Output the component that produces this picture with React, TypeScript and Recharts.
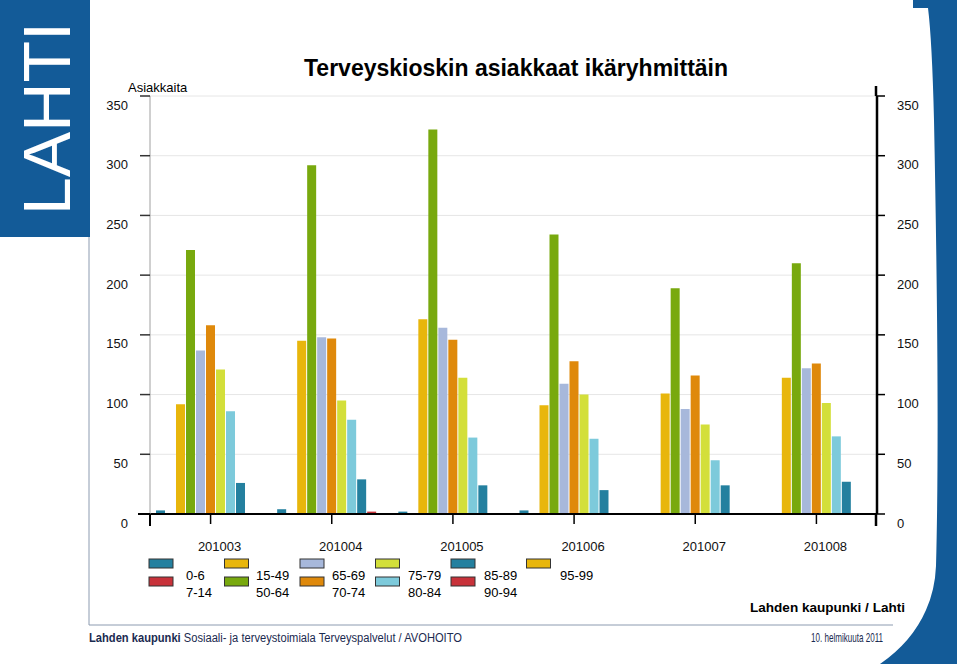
import { Bar, BarChart, CartesianGrid, XAxis, YAxis } from "recharts";

const months = ["201003", "201004", "201005", "201006", "201007", "201008"];
const ageGroups = ["0-6", "7-14", "15-49", "50-64", "65-69", "70-74", "75-79", "80-84", "85-89", "90-94", "95-99"];
const groupColors = [
  "#24809f", "#c8323a", "#e8b60c", "#78a90e", "#a7b8db", "#df890b",
  "#d3df3a", "#7dcadb", "#24809f", "#c8323a", "#e8b60c",
];

// Asiakkaita per age group, one value per month
const age0_6 = [3, 4, 2, 3, 0, 0];
const age7_14 = [0, 0, 0, 0, 0, 0];
const age15_49 = [92, 145, 163, 91, 101, 114];
const age50_64 = [221, 292, 322, 234, 189, 210];
const age65_69 = [137, 148, 156, 109, 88, 122];
const age70_74 = [158, 147, 146, 128, 116, 126];
const age75_79 = [121, 95, 114, 100, 75, 93];
const age80_84 = [86, 79, 64, 63, 45, 65];
const age85_89 = [26, 29, 24, 20, 24, 27];
const age90_94 = [0, 2, 0, 0, 0, 0];
const age95_99 = [0, 0, 0, 0, 0, 0];

const seriesValues = [
  age0_6, age7_14, age15_49, age50_64, age65_69, age70_74,
  age75_79, age80_84, age85_89, age90_94, age95_99,
];

const yTicks = [0, 50, 100, 150, 200, 250, 300, 350];

const data = months.map((month, i) => {
  const row: Record<string, string | number> = { month };
  ageGroups.forEach((g, k) => {
    row[g] = seriesValues[k][i];
  });
  return row;
});

const FONT = "'Liberation Sans', Arial, sans-serif";

function LeftTick({ x, y, payload }: any) {
  return (
    <text x={x} y={y + 9} dy="0.355em" textAnchor="end" fontSize={13} fill="#111" fontFamily={FONT}>
      {payload.value}
    </text>
  );
}

function RightTick({ x, y, payload }: any) {
  return (
    <text x={x} y={y + 9} dy="0.355em" textAnchor="start" fontSize={13} fill="#111" fontFamily={FONT}>
      {payload.value}
    </text>
  );
}

function MonthTick({ x, y, payload }: any) {
  return (
    <text x={x + 9} y={y + 25} textAnchor="middle" fontSize={13} fill="#111" fontFamily={FONT}>
      {payload.value}
    </text>
  );
}

function Decorations() {
  return (
    <svg
      width={960}
      height={664}
      style={{ position: "absolute", left: 0, top: 0, pointerEvents: "none" }}
      fontFamily={FONT}
    >
      {/* left logo */}
      <rect x={0} y={0} width={90} height={237} fill="#135b98" />
      <text
        x={0}
        y={0}
        transform="translate(70 215) rotate(-90)"
        fontSize={67}
        fill="#ffffff"
        textLength={193}
        lengthAdjust="spacingAndGlyphs"
      >
        LAHTI
      </text>
      {/* right logo */}
      <path
        d="M913 0 H957 V664 H880 Q912 642 926 610 Q935 590 936 566 Q940 420 934 120 Q932 40 928 8 H913 Z"
        fill="#135b98"
      />
      {/* frame */}
      <line x1={89} y1={237} x2={89} y2={625} stroke="#8c9bb0" strokeWidth={1} />
      <line x1={89} y1={625} x2={893} y2={625} stroke="#8c9bb0" strokeWidth={1} />

      {/* axis stubs */}
      <line x1={138} y1={514} x2={150} y2={514} stroke="#000" strokeWidth={2} />
      <line x1={150} y1={514} x2={150} y2={526} stroke="#000" strokeWidth={2} />
      <line x1={876} y1={86} x2={876} y2={96} stroke="#000" strokeWidth={2.5} />
      <line x1={876} y1={514} x2={876} y2={526} stroke="#000" strokeWidth={2.5} />

      {/* title */}
      <text x={304} y={76} fontSize={23} fontWeight="bold" fill="#000">
        Terveyskioskin asiakkaat ikäryhmittäin
      </text>
      <text x={128} y={92} fontSize={13} fill="#000">
        Asiakkaita
      </text>

      {/* legend */}
      {ageGroups.map((g, i) => {
        const col = Math.floor(i / 2);
        const row = i % 2;
        const labelX = col === 0 ? 186 : 180 + 76 * col;
        return (
          <g key={g}>
            <rect
              x={149 + 75.5 * col}
              y={559 + 18 * row}
              width={24}
              height={9}
              fill={groupColors[i]}
              stroke="#333"
              strokeWidth={1}
            />
            <text x={labelX} y={580 + 17 * row} fontSize={13} fill="#000">
              {g}
            </text>
          </g>
        );
      })}

      <text x={750} y={612} fontSize={13} fontWeight="bold" fill="#000" textLength={155} lengthAdjust="spacingAndGlyphs">
        Lahden kaupunki / Lahti
      </text>

      {/* footer */}
      <text x={89} y={642} fontSize={12.5} fill="#1a2a50" textLength={373} lengthAdjust="spacingAndGlyphs">
        <tspan fontWeight="bold">Lahden kaupunki</tspan>
        <tspan> Sosiaali- ja terveystoimiala Terveyspalvelut / AVOHOITO</tspan>
      </text>
      <text x={811} y={642} fontSize={13} fill="#1a2a50" textLength={72} lengthAdjust="spacingAndGlyphs">
        10. helmikuuta 2011
      </text>
    </svg>
  );
}

export default function App() {
  return (
    <div style={{ position: "absolute", left: 0, top: 0, width: 960, height: 664, background: "#fff" }}>
      <BarChart
        width={960}
        height={664}
        data={data}
        margin={{ top: 96, right: 0, bottom: 120, left: 0 }}
        barCategoryGap={6}
        barGap={1}
      >
        <CartesianGrid yAxisId="left" vertical={false} stroke="#e6e6e6" />
        <XAxis
          dataKey="month"
          height={30}
          axisLine={{ stroke: "#000", strokeWidth: 2 }}
          tickLine={{ stroke: "#000", strokeWidth: 1.5 }}
          tickSize={10}
          tick={<MonthTick />}
        />
        <YAxis
          yAxisId="left"
          orientation="left"
          width={150}
          domain={[0, 350]}
          ticks={yTicks}
          interval={0}
          axisLine={{ stroke: "#a0a0a0", strokeWidth: 1 }}
          tickLine={{ stroke: "#333", strokeWidth: 1.5 }}
          tickSize={10}
          tickMargin={12}
          tick={<LeftTick />}
        />
        <YAxis
          yAxisId="right"
          orientation="right"
          width={83}
          domain={[0, 350]}
          ticks={yTicks}
          interval={0}
          axisLine={{ stroke: "#000", strokeWidth: 2.5 }}
          tickLine={{ stroke: "#000", strokeWidth: 1.5 }}
          tickSize={8}
          tickMargin={12}
          tick={<RightTick />}
        />
        {ageGroups.map((g, i) => (
          <Bar
            key={g}
            dataKey={g}
            yAxisId={i === ageGroups.length - 1 ? "right" : "left"}
            fill={groupColors[i]}
            isAnimationActive={false}
          />
        ))}
      </BarChart>
      <Decorations />
    </div>
  );
}
